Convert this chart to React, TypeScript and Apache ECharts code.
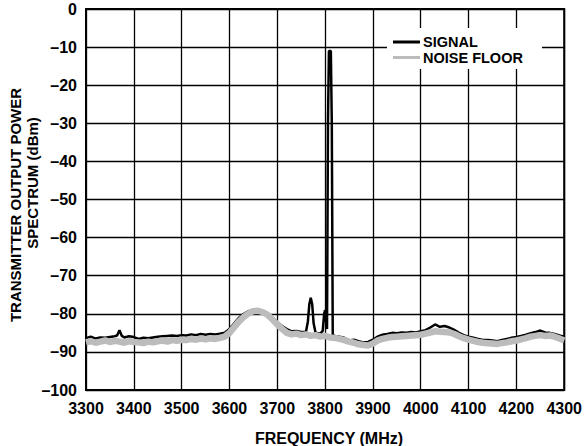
import React, { useEffect, useRef } from "react";
import * as echarts from "echarts";

const xTicks = [3300, 3400, 3500, 3600, 3700, 3800, 3900, 4000, 4100, 4200, 4300];
const yTicks = [0, -10, -20, -30, -40, -50, -60, -70, -80, -90, -100];

const noiseFreq = [
  3300, 3310, 3320, 3330, 3340, 3350, 3360, 3370, 3380, 3390,
  3400, 3410, 3420, 3430, 3440, 3450, 3460, 3470, 3480, 3490,
  3500, 3510, 3520, 3530, 3540, 3550, 3560, 3570, 3580, 3590,
  3600, 3610, 3620, 3630, 3640, 3650, 3660, 3670, 3680, 3690,
  3700, 3710, 3720, 3730, 3740, 3750, 3760, 3770, 3780, 3790,
  3800, 3810, 3820, 3830, 3840, 3850, 3860, 3870, 3880, 3890,
  3900, 3910, 3920, 3930, 3940, 3950, 3960, 3970, 3980, 3990,
  4000, 4010, 4020, 4030, 4040, 4050, 4060, 4070, 4080, 4090,
  4100, 4110, 4120, 4130, 4140, 4150, 4160, 4170, 4180, 4190,
  4200, 4210, 4220, 4230, 4240, 4250, 4260, 4270, 4280, 4290, 4300,
];
const noiseFloor = [
  -87.5, -87.2, -87.6, -87.3, -87.0, -87.4, -87.1, -87.3, -87.6, -87.2,
  -87.4, -87.5, -87.7, -87.3, -87.5, -87.2, -87.0, -87.3, -86.9, -87.1,
  -86.8, -86.9, -86.6, -86.8, -86.5, -86.7, -86.4, -86.6, -86.3, -86.0,
  -85.0, -83.5, -82.0, -80.8, -79.9, -79.3, -79.2, -79.6, -80.3, -81.5,
  -82.8, -84.0, -85.0, -85.4, -85.2, -85.6, -85.4, -85.8, -85.6, -86.0,
  -85.8, -86.2, -86.3, -86.6, -86.9, -87.3, -87.6, -88.0, -88.2, -88.3,
  -87.8, -87.0, -86.6, -86.3, -86.1, -86.0, -85.9, -85.8, -85.7, -85.6,
  -85.5, -85.2, -84.9, -84.6, -84.7, -84.8, -84.9, -85.3, -85.9, -86.4,
  -86.8, -87.1, -87.4, -87.6, -87.7, -87.8, -87.9, -87.7, -87.5, -87.2,
  -87.0, -86.7, -86.4, -86.0, -85.8, -85.6, -85.8, -85.7, -86.0, -86.5, -87.0,
];

const signalFreq = [
  3300, 3310, 3320, 3330, 3340, 3350, 3360, 3365, 3370, 3375, 3380, 3390,
  3400, 3410, 3420, 3430, 3440, 3450, 3460, 3470, 3480, 3490,
  3500, 3510, 3520, 3530, 3540, 3550, 3560, 3570, 3580, 3590,
  3600, 3610, 3620, 3630, 3640, 3650, 3660, 3670, 3680, 3690,
  3700, 3710, 3720, 3730, 3740, 3750, 3760, 3764, 3767, 3770, 3773, 3776, 3780, 3790,
  3795, 3798, 3800, 3802, 3804, 3806, 3808, 3812, 3814, 3816, 3820, 3830, 3840, 3850,
  3860, 3870, 3880, 3890, 3900, 3910, 3920, 3930, 3940, 3950, 3960, 3970, 3980, 3990,
  4000, 4010, 4020, 4030, 4040, 4050, 4060, 4070, 4080, 4090,
  4100, 4110, 4120, 4130, 4140, 4150, 4160, 4170, 4180, 4190,
  4200, 4210, 4220, 4230, 4240, 4250, 4260, 4270, 4280, 4290, 4300,
];
const signal = [
  -86.4, -86.0, -86.5, -86.2, -86.3, -86.1, -85.9, -85.7, -84.3, -85.8, -86.2, -85.9,
  -86.1, -86.6, -86.3, -86.4, -86.2, -86.0, -85.9, -85.8, -85.7, -85.8,
  -85.6, -85.7, -85.4, -85.6, -85.3, -85.5, -85.3, -85.4, -85.2, -85.0,
  -84.0, -82.5, -81.0, -80.0, -79.3, -78.9, -78.9, -79.3, -80.0, -81.0,
  -82.2, -83.2, -84.0, -84.6, -84.5, -84.8, -84.7, -82.0, -77.5, -75.8, -77.5, -82.5, -85.0, -85.2,
  -84.5, -80.0, -79.0, -82.0, -84.0, -30.0, -11.0, -11.0, -30.0, -85.5, -85.8, -86.0, -86.3, -87.0,
  -86.8, -87.2, -87.5, -87.4, -86.8, -86.0, -85.5, -85.3, -85.0, -85.1, -84.9, -85.0, -84.8, -84.9,
  -84.6, -84.3, -83.6, -82.8, -83.4, -83.2, -83.6, -84.2, -85.0, -85.6,
  -86.0, -86.3, -86.6, -86.9, -86.9, -87.0, -87.2, -86.9, -86.6, -86.3,
  -86.1, -85.8, -85.5, -85.1, -84.8, -84.4, -84.9, -85.0, -85.3, -85.7, -86.0,
];

const seriesNames = ["SIGNAL", "NOISE FLOOR"];
const FONT = "'Liberation Sans', Arial, sans-serif";

export default function App() {
  const ref = useRef<HTMLDivElement>(null);
  useEffect(() => {
    if (!ref.current) return;
    const chart = echarts.init(ref.current, undefined, { renderer: "svg" });
    const fmt = (v: number) => (v < 0 ? "\u2013" + Math.abs(v) : String(v));
    chart.setOption({
      animation: false,
      backgroundColor: "#fff",
      grid: {
        left: 86, right: 19, top: 9, bottom: 56,
        show: true, borderColor: "#000", borderWidth: 2, backgroundColor: "transparent",
      },
      xAxis: {
        type: "value", min: xTicks[0], max: xTicks[xTicks.length - 1], interval: 100,
        axisLine: { show: false },
        axisTick: { show: false },
        splitLine: { show: true, lineStyle: { color: "#000", width: 1.3 } },
        axisLabel: {
          color: "#000", fontFamily: FONT, fontWeight: "bold", fontSize: 16, margin: 10,
          formatter: (v: number) => String(v),
          showMinLabel: true, showMaxLabel: true,
        },
      },
      yAxis: {
        type: "value", min: yTicks[yTicks.length - 1], max: yTicks[0], interval: 10,
        axisLine: { show: false },
        axisTick: { show: false },
        splitLine: { show: true, lineStyle: { color: "#000", width: 1.3 } },
        axisLabel: {
          color: "#000", fontFamily: FONT, fontWeight: "bold", fontSize: 16, margin: 9,
          formatter: fmt,
        },
      },
      series: [
        {
          name: seriesNames[0], type: "line", showSymbol: false, symbol: "none",
          data: signalFreq.map((f, i) => [f, signal[i]]),
          lineStyle: { color: "#000", width: 2.5 }, z: 3,
        },
        {
          name: seriesNames[1], type: "line", showSymbol: false, symbol: "none",
          data: noiseFreq.map((f, i) => [f, noiseFloor[i]]),
          lineStyle: { color: "#bcbcbc", width: 6.5 }, z: 4,
        },
      ],
      graphic: [
        { type: "rect", z: 100, shape: { x: 387, y: 28, width: 155, height: 41 }, style: { fill: "#fff" } },
        { type: "line", z: 101, shape: { x1: 393, y1: 42, x2: 420, y2: 42 }, style: { stroke: "#000", lineWidth: 3 } },
        { type: "line", z: 101, shape: { x1: 393, y1: 57.5, x2: 420, y2: 57.5 }, style: { stroke: "#bcbcbc", lineWidth: 3 } },
        { type: "text", z: 101, x: 423, y: 41.5, style: { text: seriesNames[0], fill: "#000", font: `bold 14.5px ${FONT}`, verticalAlign: "middle" } },
        { type: "text", z: 101, x: 423, y: 58, style: { text: seriesNames[1], fill: "#000", font: `bold 14.5px ${FONT}`, verticalAlign: "middle" } },
        { type: "text", z: 101, x: 329, y: 438, style: { text: "FREQUENCY (MHz)", fill: "#000", font: `bold 16px ${FONT}`, align: "center", verticalAlign: "middle" } },
        { type: "text", z: 101, x: 15.5, y: 205, rotation: Math.PI / 2, style: { text: "TRANSMITTER OUTPUT POWER", fill: "#000", font: `bold 15px ${FONT}`, align: "center", verticalAlign: "middle" } },
        { type: "text", z: 101, x: 32.5, y: 183, rotation: Math.PI / 2, style: { text: "SPECTRUM (dBm)", fill: "#000", font: `bold 15px ${FONT}`, align: "center", verticalAlign: "middle" } },
      ],
    });
    return () => chart.dispose();
  }, []);
  return <div ref={ref} style={{ position: "fixed", left: 0, top: 0, width: 585, height: 446 }} />;
}
